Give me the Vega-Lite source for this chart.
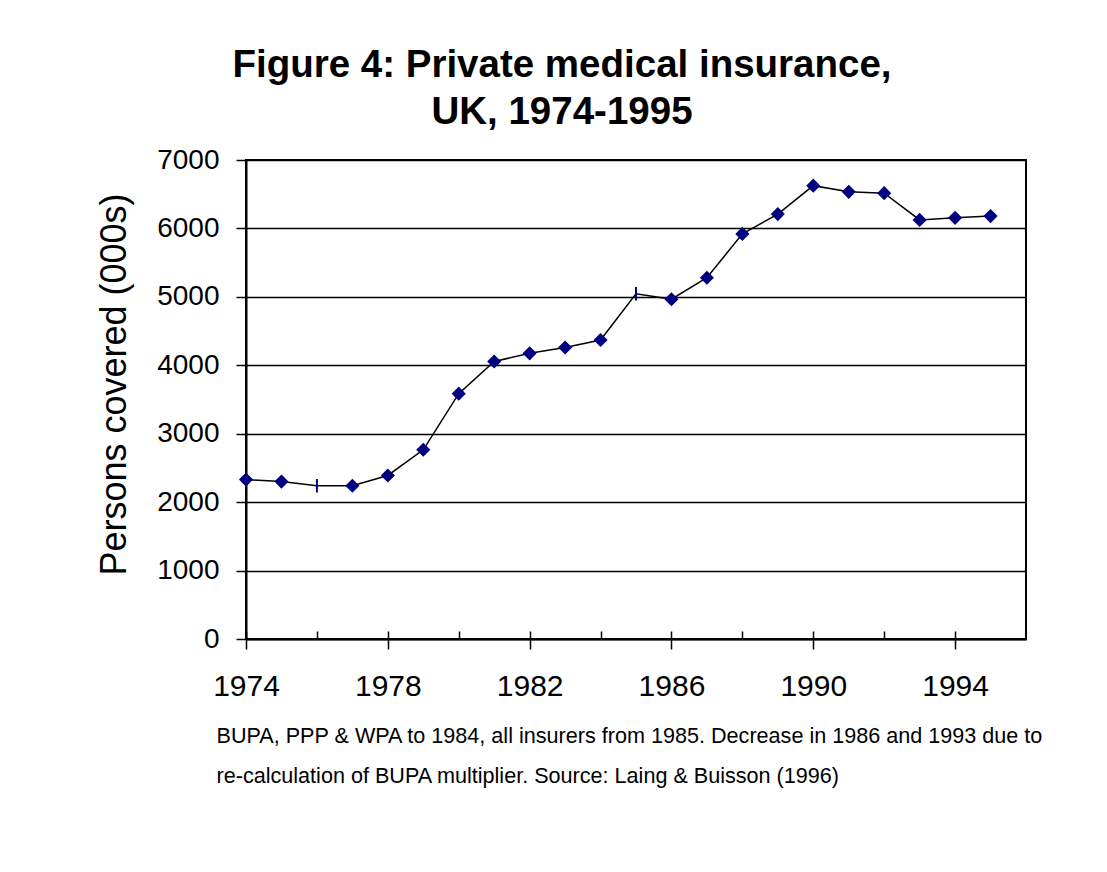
{
  "$schema": "https://vega.github.io/schema/vega-lite/v6.json",
  "autosize": "none",
  "width": 780,
  "height": 479,
  "padding": {"left": 246, "top": 160, "right": 81, "bottom": 233},
  "background": "white",
  "config": {
    "font": "Liberation Sans",
    "view": {"stroke": "black", "strokeWidth": 2},
    "axis": {"domainColor": "black", "tickColor": "black", "labelColor": "black", "titleColor": "black", "domainWidth": 2, "tickWidth": 1.5}
  },
  "title": {
    "text": ["Figure 4: Private medical insurance,", "UK, 1974-1995"],
    "fontSize": 38.5,
    "fontWeight": "bold",
    "color": "black",
    "lineHeight": 47,
    "anchor": "middle",
    "frame": "group",
    "dx": -74,
    "dy": 22,
    "offset": 36
  },
  "data": {
    "values": [
      {"year": 1974, "persons": 2330},
      {"year": 1975, "persons": 2300},
      {"year": 1976, "persons": 2240},
      {"year": 1977, "persons": 2240},
      {"year": 1978, "persons": 2390},
      {"year": 1979, "persons": 2765},
      {"year": 1980, "persons": 3585},
      {"year": 1981, "persons": 4055},
      {"year": 1982, "persons": 4175},
      {"year": 1983, "persons": 4260},
      {"year": 1984, "persons": 4370},
      {"year": 1985, "persons": 5045},
      {"year": 1986, "persons": 4965},
      {"year": 1987, "persons": 5280},
      {"year": 1988, "persons": 5920},
      {"year": 1989, "persons": 6210},
      {"year": 1990, "persons": 6625},
      {"year": 1991, "persons": 6535},
      {"year": 1992, "persons": 6515},
      {"year": 1993, "persons": 6125},
      {"year": 1994, "persons": 6155},
      {"year": 1995, "persons": 6180}
    ]
  },
  "encoding": {
    "x": {"field": "year", "type": "quantitative", "scale": {"domain": [1974, 1996], "nice": false, "zero": false}},
    "y": {"field": "persons", "type": "quantitative", "scale": {"domain": [0, 7000], "nice": false}}
  },
  "layer": [
    {
      "mark": {"type": "line", "color": "black", "strokeWidth": 1.5},
      "encoding": {
        "x": {
          "field": "year", "type": "quantitative",
          "axis": {
            "orient": "bottom",
            "values": [1974, 1978, 1982, 1986, 1990, 1994],
            "format": "d",
            "labelFlush": false,
            "labelOverlap": false,
            "tickSize": 10,
            "labelFontSize": 30,
            "labelPadding": 22,
            "grid": false,
            "title": ["BUPA, PPP & WPA to 1984, all insurers from 1985. Decrease in 1986 and 1993 due to", "re-calculation of BUPA multiplier.  Source: Laing & Buisson (1996)"],
            "titleFontSize": 21.6,
            "titleFontWeight": "normal",
            "titleAlign": "left",
            "titleAnchor": "start",
            "titleBaseline": "alphabetic",
            "titleLineHeight": 40,
            "titleX": -30,
            "titleY": 103
          }
        },
        "y": {
          "field": "persons", "type": "quantitative",
          "axis": {
            "values": [0, 1000, 2000, 3000, 4000, 5000, 6000, 7000],
            "format": "d",
            "tickSize": 10,
            "labelFontSize": 28,
            "labelPadding": 17,
            "grid": true,
            "gridColor": "black",
            "gridWidth": 1.5,
            "gridOpacity": 1,
            "title": "Persons covered (000s)",
            "titleFontSize": 36,
            "titleFontWeight": "normal",
            "titleAngle": -90,
            "titleAlign": "center",
            "titleBaseline": "alphabetic",
            "titleX": -121,
            "titleY": 224
          }
        }
      }
    },
    {
      "transform": [{"filter": "datum.year != 1976 && datum.year != 1985"}],
      "mark": {"type": "point", "shape": "diamond", "filled": true, "color": "#000080", "size": 200, "opacity": 1},
      "encoding": {
        "x": {
          "field": "year", "type": "quantitative",
          "axis": {
            "orient": "bottom",
            "offset": -8,
            "values": [1974, 1976, 1978, 1980, 1982, 1984, 1986, 1988, 1990, 1992, 1994],
            "tickSize": 8,
            "labels": false,
            "domain": false,
            "grid": false,
            "title": null
          }
        }
      }
    },
    {
      "transform": [{"filter": "datum.year == 1976 || datum.year == 1985"}],
      "mark": {"type": "point", "shape": "M0,-1L0,1", "filled": false, "color": "#000080", "strokeWidth": 2, "size": 180, "opacity": 1},
      "encoding": {
        "x": {"field": "year", "type": "quantitative", "axis": null}
      }
    }
  ],
  "resolve": {"axis": {"x": "independent"}}
}
